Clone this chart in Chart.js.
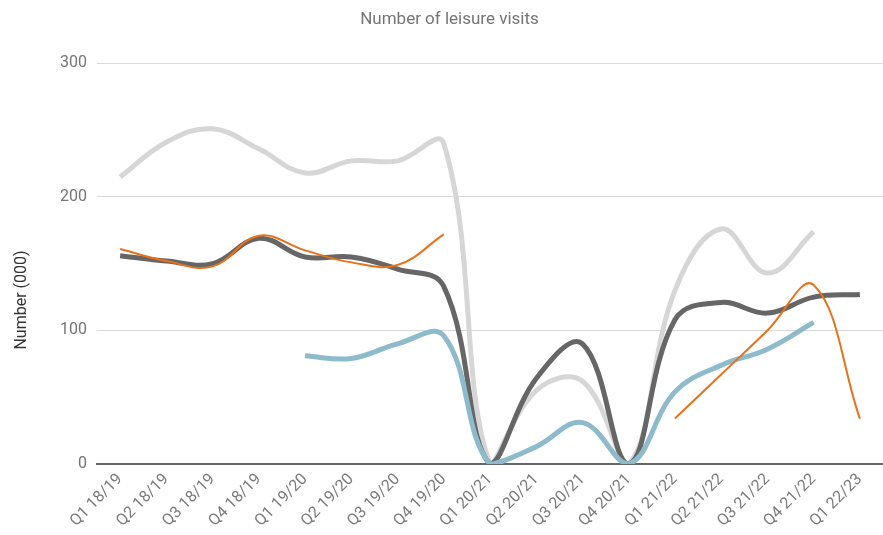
<!DOCTYPE html>
<html>
<head>
<meta charset="utf-8">
<script src="https://cdn.jsdelivr.net/npm/chart.js@4"></script>
<style>
  html, body { margin: 0; padding: 0; background: #ffffff; }
  #wrap { width: 883px; height: 535px; }
</style>
</head>
<body>
<div id="wrap"><canvas id="chart" width="883" height="535"></canvas></div>
<script>
// Quarters on the x axis
const quarters = ['Q1 18/19','Q2 18/19','Q3 18/19','Q4 18/19','Q1 19/20','Q2 19/20','Q3 19/20','Q4 19/20',
  'Q1 20/21','Q2 20/21','Q3 20/21','Q4 20/21','Q1 21/22','Q2 21/22','Q3 21/22','Q4 21/22','Q1 22/23'];

// Leisure visits (000) per series
const seriesLightGrey = [215, 241, 251, 236, 218, 227, 227, 240, 0, 55, 62, 0, 130, 176, 143, 174, null];
const seriesDarkGrey  = [156, 152, 150, 169, 155, 155, 146, 133, 0, 64, 90, 0, 108, 121, 113, 125, 127];
const seriesBlue      = [null, null, null, null, 81, 79, 90, 96, 0, 13, 31, 0, 54, 74, 86, 106, null];
const seriesOrange    = [161, 152, 148, 171, 160, 151, 149, 172, null, null, null, null, 34, 67, 100, 134, 34];

const yTicks = [0, 100, 200, 300];
const yAxisTitle = 'Number (000)';

const lineBase = { pointRadius: 0, pointHoverRadius: 0, tension: 0.4, fill: false, spanGaps: false,
  borderCapStyle: 'butt', borderJoinStyle: 'round' };

// Vertical axis title, drawn beside the tick labels
const yTitlePlugin = {
  id: 'yTitle',
  afterDraw(chart) {
    const ctx = chart.ctx;
    ctx.save();
    ctx.translate(22, 300);
    ctx.rotate(-Math.PI / 2);
    ctx.font = '16px Roboto';
    ctx.fillStyle = '#333333';
    ctx.textAlign = 'center';
    ctx.textBaseline = 'middle';
    ctx.fillText(yAxisTitle, 0, 0);
    ctx.restore();
  }
};

new Chart(document.getElementById('chart'), {
  type: 'line',
  data: {
    labels: quarters,
    datasets: [
      Object.assign({ label: 'Orange', data: seriesOrange, borderColor: '#e8711a', borderWidth: 2 }, lineBase),
      Object.assign({ label: 'Blue', data: seriesBlue, borderColor: '#8dbbcc', borderWidth: 5 }, lineBase),
      Object.assign({ label: 'Dark grey', data: seriesDarkGrey, borderColor: '#666666', borderWidth: 5 }, lineBase),
      Object.assign({ label: 'Light grey', data: seriesLightGrey, borderColor: '#d6d6d6', borderWidth: 5 }, lineBase)
    ]
  },
  plugins: [yTitlePlugin],
  options: {
    responsive: false,
    animation: false,
    layout: { padding: { left: 16, right: 0, top: 0, bottom: 0 } },
    plugins: {
      legend: { display: false },
      tooltip: { enabled: false },
      title: {
        display: true,
        text: 'Number of leisure visits',
        color: '#757575',
        font: { family: 'Roboto', size: 17, weight: 'normal' },
        padding: { top: 10, bottom: 33 }
      }
    },
    scales: {
      x: {
        offset: true,
        grid: { display: false, drawTicks: false },
        border: { display: true, color: '#666666', width: 2 },
        ticks: {
          color: '#7a7a7a',
          font: { family: 'Roboto', size: 16 },
          minRotation: 45, maxRotation: 45,
          autoSkip: false,
          padding: 6
        },
        afterFit: (s) => { s.height = 71; }
      },
      y: {
        min: 0, max: 300,
        afterBuildTicks: (s) => { s.ticks = yTicks.map(v => ({ value: v })); },
        grid: { color: '#d9d9d9', lineWidth: 1, drawTicks: false },
        border: { display: false },
        ticks: {
          color: '#757575',
          font: { family: 'Roboto', size: 16 },
          padding: 10
        },
        afterFit: (s) => { s.width = 81; }
      }
    }
  }
});
</script>
</body>
</html>
